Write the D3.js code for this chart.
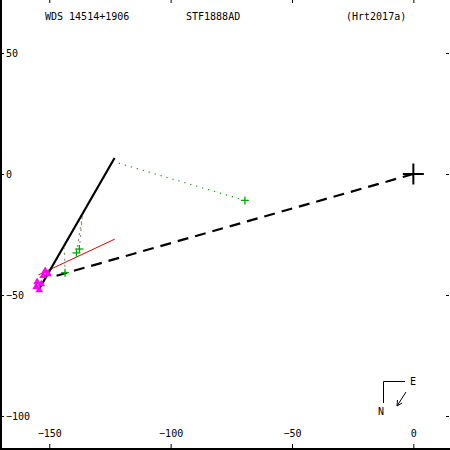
<!DOCTYPE html>
<html>
<head>
<meta charset="utf-8">
<script src="https://cdn.jsdelivr.net/npm/d3@7"></script>
<style>
  html, body { margin: 0; padding: 0; background: #fff; }
  svg { display: block; }
  text { font-family: "DejaVu Sans Mono", monospace; font-size: 10px; fill: #000; }
</style>
</head>
<body>
<svg id="chart" width="450" height="450"></svg>
<script>
// ---------- data (arcsec-ish offsets, E-W / N-S) ----------
const titleTexts = ["WDS 14514+1906", "STF1888AD", "(Hrt2017a)"];
const xTicks = [-150, -100, -50, 0];
const yTicks = [50, 0, -50, -100];

// apparent orbit (nearly edge-on, drawn as a line)
const orbitLine = [[-123.1, 6.6], [-154.1, -47.4]];
// primary to periastron
const periLine = [[0, 0], [-149, -42.6]];
// red line
const nodeLine = [[-154.5, -41.7], [-123, -26.9]];

// green plus observations, with their predicted positions on the orbit
const obsGreen = [
  { x: -69.4, y: -10.9, px: -121.5, py: 4.5 },
  { x: -137.6, y: -31.0, px: -136.4, py: -17.4 },
  { x: -138.8, y: -32.6, px: -136.4, py: -17.4 },
  { x: -143.5, y: -40.8, px: -143.8, py: -30.6 }
];

// magenta triangles
const obsMagenta = [
  [-151.7, -40.1], [-150.5, -41.3], [-152.5, -42.1], [-155.0, -44.6],
  [-153.3, -45.5], [-155.4, -46.7], [-154.1, -47.9]
];

// ---------- scales ----------
const svg = d3.select("#chart");
const x = d3.scaleLinear().domain([-170.3, 15.1]).range([0, 450]);
const y = d3.scaleLinear().domain([71.9, -114.05]).range([0, 450]);

// ---------- frame + axes ----------
svg.append("line").attr("x1", 1).attr("x2", 1).attr("y1", 0).attr("y2", 450)
  .attr("stroke", "#000").attr("stroke-width", 2);
svg.append("line").attr("x1", 0).attr("x2", 450).attr("y1", 449).attr("y2", 449)
  .attr("stroke", "#000").attr("stroke-width", 2);

const axLeft = svg.append("g").attr("transform", "translate(1,0)")
  .call(d3.axisRight(y).tickValues(yTicks).tickSize(3).tickPadding(2).tickFormat(d3.format("d")));
const axRight = svg.append("g").attr("transform", "translate(449,0)")
  .call(d3.axisLeft(y).tickValues(yTicks).tickSize(3).tickFormat(""));
const axBottom = svg.append("g").attr("transform", "translate(0,449)")
  .call(d3.axisTop(x).tickValues(xTicks).tickSize(5).tickPadding(7).tickFormat(d3.format("d")));
const axTop = svg.append("g").attr("transform", "translate(0,0)")
  .call(d3.axisBottom(x).tickValues(xTicks).tickSize(3).tickFormat(""));

[axLeft, axRight, axBottom, axTop].forEach((g) => {
  g.select(".domain").remove();
  g.selectAll("line").attr("stroke", "#000").attr("stroke-width", 1);
  g.selectAll("text").attr("font-family", "DejaVu Sans Mono, monospace").attr("font-size", 10).attr("fill", "#000");
});
axLeft.selectAll("text").text((d) => (d < 0 ? "\u2212" + Math.abs(d) : d));
axBottom.selectAll("text").text((d) => (d < 0 ? "\u2212" + Math.abs(d) : d));

// ---------- title ----------
const titleX = [45, 186, 346];
svg.selectAll("text.title").data(titleTexts).join("text")
  .attr("class", "title")
  .attr("x", (d, i) => titleX[i])
  .attr("y", 20)
  .text((d) => d);

// ---------- lines ----------
const line = d3.line().x((d) => x(d[0])).y((d) => y(d[1]));

svg.append("path").attr("d", line(periLine))
  .attr("fill", "none").attr("stroke", "#000").attr("stroke-width", 2.2)
  .attr("stroke-dasharray", "11,7");

svg.append("path").attr("d", line(nodeLine))
  .attr("fill", "none").attr("stroke", "#e00").attr("stroke-width", 1);

// residual lines (dotted)
svg.selectAll("path.resid").data(obsGreen).join("path")
  .attr("class", "resid")
  .attr("d", (d) => line([[d.x, d.y], [d.px, d.py]]))
  .attr("fill", "none").attr("stroke", (d, i) => (i === 0 ? "#090" : "#7a9a7a"))
  .attr("stroke-width", 1.2)
  .attr("stroke-dasharray", (d, i) => (i === 0 ? "1.2,5" : "2,4"));

svg.append("path").attr("d", line(orbitLine))
  .attr("fill", "none").attr("stroke", "#000").attr("stroke-width", 2.2);

// ---------- markers ----------
const tri = d3.symbol().type(d3.symbolTriangle).size(26);
svg.selectAll("path.tri").data(obsMagenta).join("path")
  .attr("class", "tri")
  .attr("d", tri)
  .attr("transform", (d) => `translate(${x(d[0])},${y(d[1])})`)
  .attr("fill", "#f0f");

const plus = (g, cx, cy, r, w, col) => {
  g.append("line").attr("x1", cx - r).attr("x2", cx + r).attr("y1", cy).attr("y2", cy)
    .attr("stroke", col).attr("stroke-width", w);
  g.append("line").attr("x1", cx).attr("x2", cx).attr("y1", cy - r).attr("y2", cy + r)
    .attr("stroke", col).attr("stroke-width", w);
};
const markers = svg.append("g");
obsGreen.forEach((d) => plus(markers, x(d.x), y(d.y), 4, 1.3, "#0a0"));

// primary star
plus(svg.append("g"), x(0), y(0), 10.5, 2, "#000");

// ---------- compass ----------
const comp = svg.append("g");
comp.append("path").attr("d", "M405,381.5 H383.5 V403")
  .attr("fill", "none").attr("stroke", "#000").attr("stroke-width", 1);
comp.append("text").attr("x", 410).attr("y", 385).text("E");
comp.append("text").attr("x", 378).attr("y", 415).text("N");
comp.append("line").attr("x1", 406).attr("y1", 392).attr("x2", 397).attr("y2", 406)
  .attr("stroke", "#000").attr("stroke-width", 1);
comp.append("path").attr("d", "M397,406 L397.5,400 M397,406 L402,403")
  .attr("fill", "none").attr("stroke", "#000").attr("stroke-width", 1);
</script>
</body>
</html>
